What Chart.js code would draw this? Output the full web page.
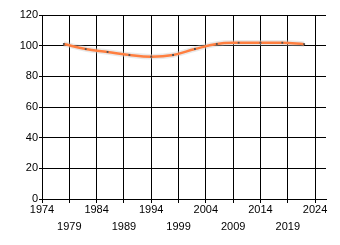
<!DOCTYPE html>
<html>
<head>
<meta charset="utf-8">
<script src="https://cdn.jsdelivr.net/npm/chart.js@4/dist/chart.umd.min.js"></script>
<style>
  html, body { margin: 0; padding: 0; background: #fff; }
  #wrap { width: 340px; height: 245px; }
</style>
</head>
<body>
<div id="wrap"><canvas id="chart"></canvas></div>
<script>
// data
var years = [1978, 1982, 1986, 1990, 1994, 1998, 2002, 2006, 2010, 2014, 2018, 2022];
var values = [101.1, 97.8, 95.9, 93.9, 92.8, 93.9, 97.8, 101.1, 101.9, 101.9, 101.9, 101.0];
var xTicks = [1974, 1979, 1984, 1989, 1994, 1999, 2004, 2009, 2014, 2019, 2024];
var yTicks = [0, 20, 40, 60, 80, 100, 120];

var pts = years.map((y, i) => ({ x: y, y: values[i] }));
var font = { family: "'Liberation Sans', Arial, sans-serif", size: 11, lineHeight: 1.5 };

const ctx = document.getElementById("chart").getContext("2d");
const chart = new Chart(ctx, {
  type: "line",
  data: {
    datasets: [
      {
        // main orange line
        data: pts,
        order: 1,
        borderColor: "#ff7f40",
        borderWidth: 2.5,
        tension: 0.4,
        pointStyle: "rect",
        pointRadius: 1.3,
        pointBackgroundColor: "#505050",
        pointBorderWidth: 0,
        fill: false,
      },
      {
        // soft grey shadow under the line
        data: pts,
        order: 2,
        borderColor: "rgba(200,200,200,0.4)",
        borderWidth: 5.5,
        tension: 0.4,
        pointRadius: 0,
        fill: false,
      },
    ],
  },
  options: {
    responsive: true,
    maintainAspectRatio: false,
    animation: false,
    layout: { padding: { left: 0, right: 14, top: 15, bottom: 0 } },
    plugins: { legend: { display: false }, tooltip: { enabled: false } },
    scales: {
      x: {
        type: "linear",
        min: 1974,
        max: 2026,
        afterBuildTicks: (scale) => {
          scale.ticks = xTicks.map((v) => ({ value: v }));
        },
        afterFit: (scale) => {
          scale.height = 46;
        },
        grid: { color: "#000", lineWidth: 1, tickLength: 4 },
        border: { color: "#000", width: 1 },
        ticks: {
          color: "#000",
          font: font,
          maxRotation: 0,
          autoSkip: false,
          padding: -1,
          callback: (v, i) => (i % 2 === 0 ? String(v) : ["", String(v)]),
        },
      },
      y: {
        min: 0,
        max: 120,
        afterBuildTicks: (scale) => {
          scale.ticks = yTicks.map((v) => ({ value: v }));
        },
        afterFit: (scale) => {
          scale.width = 42;
        },
        grid: { color: "#000", lineWidth: 1, tickLength: 3 },
        border: { color: "#000", width: 1 },
        ticks: { color: "#000", font: { family: font.family, size: 11 }, padding: 1 },
      },
    },
  },
});
</script>
</body>
</html>
